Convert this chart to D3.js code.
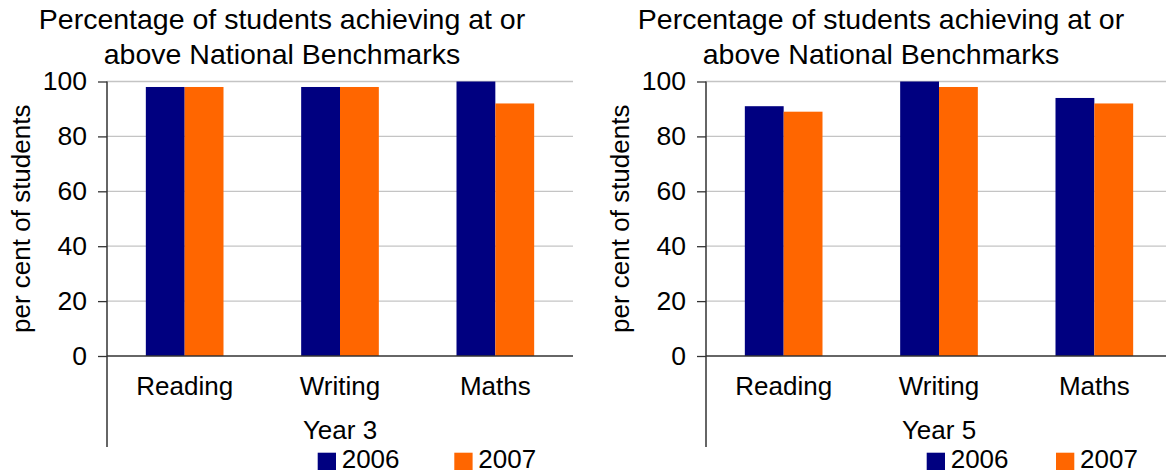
<!DOCTYPE html>
<html>
<head>
<meta charset="utf-8">
<script src="https://cdn.jsdelivr.net/npm/d3@7"></script>
<style>
  html, body { margin: 0; padding: 0; background: #fff; }
  svg { display: block; }
  text { font-family: "Liberation Sans", Arial, Helvetica, sans-serif; fill: #000; }
</style>
</head>
<body>
<svg id="chart" width="1166" height="474"></svg>
<script>
// Subjects and survey years
const subjects = ["Reading", "Writing", "Maths"];
const years = ["2006", "2007"];
const yearColors = ["#000080", "#FF6600"];

// Percentage at or above benchmark, Year 3
const year3_2006 = [98, 98, 100];
const year3_2007 = [98, 98, 92];

// Percentage at or above benchmark, Year 5
const year5_2006 = [91, 100, 94];
const year5_2007 = [89, 98, 92];

const yTicks = [0, 20, 40, 60, 80, 100];
const titleLines = ["Percentage of students achieving at or", "above National Benchmarks"];
const yLabel = "per cent of students";

const panels = [
  { offset: 0,   group: "Year 3", series: [year3_2006, year3_2007], legendX: [317.7, 454.3] },
  { offset: 599, group: "Year 5", series: [year5_2006, year5_2007], legendX: [327.7, 457] }
];

const svg = d3.select("#chart");

// Plot geometry inside each panel
const plotLeft = 107, plotWidth = 466, plotTop = 81.5, plotBottom = 356;

const y = d3.scaleLinear().domain([0, 100]).range([plotBottom, plotTop]);
const x = d3.scaleBand().domain(subjects).range([plotLeft, plotLeft + plotWidth])
  .paddingInner(0.5).paddingOuter(0.25);
const xs = d3.scaleBand().domain(years).range([0, x.bandwidth()]);

panels.forEach(p => {
  const g = svg.append("g").attr("transform", `translate(${p.offset},0)`);

  // Title
  g.append("text")
    .attr("x", 282).attr("y", 28.5)
    .attr("text-anchor", "middle")
    .style("font-size", "28.5px")
    .selectAll("tspan").data(titleLines).join("tspan")
    .attr("x", 282).attr("dy", (d, i) => i === 0 ? 0 : 35)
    .text(d => d);

  // Gridlines
  g.append("g").selectAll("line").data(yTicks.filter(t => t > 0)).join("line")
    .attr("x1", plotLeft).attr("x2", plotLeft + plotWidth)
    .attr("y1", d => y(d)).attr("y2", d => y(d))
    .attr("stroke", "#c4c4c4").attr("stroke-width", 1.3);

  // Bars
  const rows = subjects.map((s, i) => ({ subject: s, values: years.map((yr, k) => ({ year: yr, k, value: p.series[k][i] })) }));
  g.append("g").selectAll("g").data(rows).join("g")
    .attr("transform", d => `translate(${x(d.subject)},0)`)
    .selectAll("rect").data(d => d.values).join("rect")
    .attr("x", d => xs(d.year))
    .attr("width", xs.bandwidth())
    .attr("y", d => y(d.value))
    .attr("height", d => y(0) - y(d.value))
    .attr("fill", d => yearColors[d.k]);

  // Y axis
  const yAxis = d3.axisLeft(y).tickValues(yTicks).tickSize(9).tickPadding(11);
  const ya = g.append("g").attr("transform", `translate(${plotLeft},0)`).call(yAxis);
  ya.select(".domain").remove();
  ya.selectAll(".tick line").attr("stroke", "#333").attr("stroke-width", 1.3);
  ya.selectAll(".tick text").style("font-size", "26.5px").style("font-family", "Liberation Sans, Arial, sans-serif").attr("fill", "#000");

  // Vertical axis line extended below the category labels
  g.append("line")
    .attr("x1", plotLeft).attr("x2", plotLeft)
    .attr("y1", plotTop).attr("y2", 447)
    .attr("stroke", "#333").attr("stroke-width", 1.5);

  // Baseline
  g.append("line")
    .attr("x1", plotLeft).attr("x2", plotLeft + plotWidth)
    .attr("y1", y(0)).attr("y2", y(0))
    .attr("stroke", "#333").attr("stroke-width", 1.5);

  // Category labels
  g.append("g").selectAll("text").data(subjects).join("text")
    .attr("x", d => x(d) + x.bandwidth() / 2)
    .attr("y", 395)
    .attr("text-anchor", "middle")
    .style("font-size", "26px")
    .text(d => d);

  // Group label
  g.append("text")
    .attr("x", plotLeft + plotWidth / 2).attr("y", 438.5)
    .attr("text-anchor", "middle")
    .style("font-size", "26px")
    .text(p.group);

  // Y axis title
  g.append("text")
    .attr("transform", `translate(30,${(plotTop + plotBottom) / 2}) rotate(-90)`)
    .attr("text-anchor", "middle")
    .style("font-size", "26px")
    .text(yLabel);

  // Legend
  const lg = g.append("g").selectAll("g").data(years).join("g")
    .attr("transform", (d, i) => `translate(${p.legendX[i]},0)`);
  lg.append("rect")
    .attr("x", 0).attr("y", 452.7)
    .attr("width", 18.3).attr("height", 17.3)
    .attr("fill", (d, i) => yearColors[i]);
  lg.append("text")
    .attr("x", 24).attr("y", 468.3)
    .style("font-size", "26px")
    .text(d => d);
});
</script>
</body>
</html>
